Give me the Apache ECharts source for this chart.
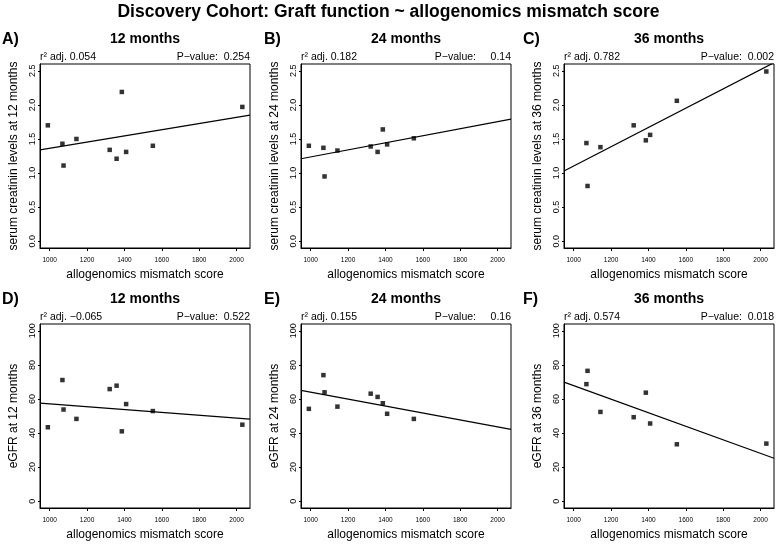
<!DOCTYPE html>
<html><head><meta charset="utf-8">
<script src="https://cdn.jsdelivr.net/npm/echarts@6/dist/echarts.min.js"></script>
<style>html,body{margin:0;padding:0;background:#fff}#c{width:777px;height:547px}</style>
</head><body><div id="c"></div>
<script>
// ---- data ----
const scoreX   = [990, 1068, 1074, 1143, 1321, 1358, 1386, 1409, 1552, 2031];
const creat12  = [1.70, 1.43, 1.11, 1.50, 1.34, 1.21, 2.19, 1.31, 1.40, 1.97];
const creat24  = [1.40, 1.37, 0.95, 1.33, 1.39, 1.31, 1.64, 1.42, 1.51, null];
const creat36  = [null, 1.44, 0.81, 1.38, 1.70, null, 1.48, 1.56, 2.06, 2.49];
const egfr12   = [43.4, 71.1, 53.8, 48.3, 65.8, 67.8, 41.0, 57.0, 52.9, 44.9];
const egfr24   = [54.2, 74.0, 63.9, 55.5, 63.1, 61.2, 57.5, 51.3, 48.3, null];
const egfr36   = [null, 68.7, 76.5, 52.4, 49.3, null, 63.7, 45.6, 33.4, 33.8];
// regression line values at the left / right edge of the x range
const fitLeft  = [1.34, 1.21, 1.03, 57.6, 65.0, 69.9];
const fitRight = [1.85, 1.79, 2.62, 48.2, 42.1, 25.2];
const r2Adj    = ['0.054', '0.182', '0.782', '\u22120.065', '0.155', '0.574'];
const pValues  = ['0.254', '0.14', '0.002', '0.522', '0.16', '0.018'];
const panelLetters = ['A)', 'B)', 'C)', 'D)', 'E)', 'F)'];
const panelTitles  = ['12 months', '24 months', '36 months', '12 months', '24 months', '36 months'];
const yNames = ['serum creatinin levels at 12 months', 'serum creatinin levels at 24 months', 'serum creatinin levels at 36 months',
                'eGFR at 12 months', 'eGFR at 24 months', 'eGFR at 36 months'];
const xTicks = [1000, 1200, 1400, 1600, 1800, 2000];
const creatTicks = [0, 0.5, 1.0, 1.5, 2.0, 2.5];
const egfrTicks = [0, 20, 40, 60, 80, 100];
const mainTitle = 'Discovery Cohort: Graft function ~ allogenomics mismatch score';
const xName = 'allogenomics mismatch score';

// ---- layout ----
const FONT = '"Liberation Sans", Arial, Helvetica, sans-serif';
const colLeft = [40, 301, 564];
const rowTop = [64, 324];
const W = 210, H = 184;
const letterX = [2, 264, 523];
const X_MIN = 948, X_MAX = 2072;
const yRange = { creat: [-0.1, 2.6], egfr: [-4, 104] };

const ySeries = [creat12, creat24, creat36, egfr12, egfr24, egfr36];

const grids = [], xAxes = [], yAxes = [], series = [], graphics = [];

graphics.push({ type: 'text', x: 388.5, y: 12, style: { text: mainTitle, font: 'bold 17.5px ' + FONT, fill: '#000', textAlign: 'center', textVerticalAlign: 'middle' } });

for (let i = 0; i < 6; i++) {
  const col = i % 3, row = Math.floor(i / 3);
  const kind = row === 0 ? 'creat' : 'egfr';
  const L = colLeft[col], T = rowTop[row];
  grids.push({ left: L, top: T, width: W, height: H, show: true, borderColor: '#000', borderWidth: 1, containLabel: false });
  xAxes.push({
    type: 'value', gridIndex: i, min: X_MIN, max: X_MAX,
    axisLine: { show: true, onZero: false, lineStyle: { color: '#000', width: 1 } },
    axisTick: { show: true, length: 3, customValues: xTicks, lineStyle: { color: '#000', width: 1 } },
    axisLabel: { show: true, customValues: xTicks, fontSize: 6.5, color: '#000', margin: 9, fontFamily: FONT,
      formatter: v => String(v) },
    splitLine: { show: false },
    name: xName, nameLocation: 'middle', nameGap: 21,
    nameTextStyle: { fontSize: 12, color: '#000', fontFamily: FONT }
  });
  const ticks = kind === 'creat' ? creatTicks : egfrTicks;
  yAxes.push({
    type: 'value', gridIndex: i, min: yRange[kind][0], max: yRange[kind][1],
    axisLine: { show: true, onZero: false, lineStyle: { color: '#000', width: 1 } },
    axisTick: { show: true, length: 2, customValues: ticks, lineStyle: { color: '#000', width: 1 } },
    axisLabel: { show: true, customValues: ticks, rotate: 90, fontSize: 9, color: '#000', margin: 3, fontFamily: FONT,
      formatter: v => kind === 'creat' ? Number(v).toFixed(1) : String(v) },
    splitLine: { show: false },
    name: yNames[i], nameLocation: 'middle', nameGap: 20, nameRotate: 90,
    nameTextStyle: { fontSize: 12, color: '#000', fontFamily: FONT }
  });
  const pts = [];
  scoreX.forEach((x, j) => { if (ySeries[i][j] != null) pts.push([x, ySeries[i][j]]); });
  series.push({ type: 'scatter', xAxisIndex: i, yAxisIndex: i, data: pts, symbol: 'rect', symbolSize: 4.5,
    itemStyle: { color: '#000' }, silent: true, z: 3 });
  series.push({ type: 'line', xAxisIndex: i, yAxisIndex: i, data: [[X_MIN, fitLeft[i]], [X_MAX, fitRight[i]]],
    symbol: 'none', clip: true, lineStyle: { color: '#000', width: 1.2 }, silent: true, z: 2 });

  // texts
  graphics.push({ type: 'text', x: letterX[col], y: T - 24, style: { text: panelLetters[i], font: 'bold 16px ' + FONT, fill: '#000', textAlign: 'left', textVerticalAlign: 'middle' } });
  graphics.push({ type: 'text', x: L + W / 2, y: T - 25, style: { text: panelTitles[i], font: 'bold 14px ' + FONT, fill: '#000', textAlign: 'center', textVerticalAlign: 'middle' } });
  graphics.push({ type: 'text', x: L, y: T - 7, style: { text: 'r\u00B2 adj. ' + r2Adj[i], font: '10.5px ' + FONT, fill: '#000', textAlign: 'left', textVerticalAlign: 'middle' } });
  const gap = pValues[i].length < 5 ? '     ' : '  ';
  graphics.push({ type: 'text', x: L + W, y: T - 7, style: { text: 'P\u2212value:' + gap + pValues[i], font: '10.5px ' + FONT, fill: '#000', textAlign: 'right', textVerticalAlign: 'middle' } });
}

const chart = echarts.init(document.getElementById('c'), null, { renderer: 'canvas' });
chart.setOption({
  backgroundColor: '#fff',
  animation: false,
  grid: grids, xAxis: xAxes, yAxis: yAxes, series: series,
  graphic: graphics
});
</script>
</body></html>
